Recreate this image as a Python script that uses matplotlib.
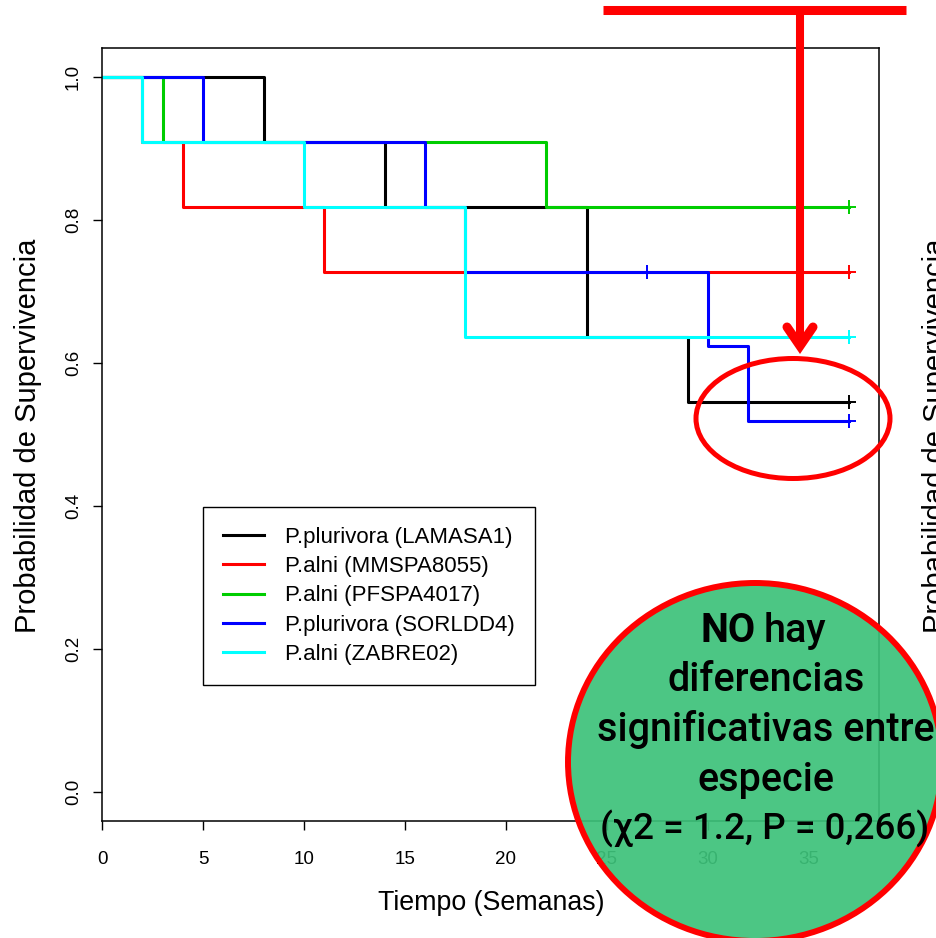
import matplotlib
matplotlib.use("Agg")
import matplotlib.pyplot as plt
from matplotlib.patches import Ellipse
from matplotlib.lines import Line2D

plt.rcParams['font.family'] = ['Liberation Sans', 'DejaVu Sans']

# Kaplan-Meier curves: step times (weeks) and survival after each step
labels = ["P.plurivora (LAMASA1)", "P.alni (MMSPA8055)", "P.alni (PFSPA4017)",
          "P.plurivora (SORLDD4)", "P.alni (ZABRE02)"]
colors = ["black", "#FF0000", "#00CD00", "#0000FF", "#00FFFF"]

t_lamasa = [0, 8, 14, 24, 29, 37]
s_lamasa = [1.0, 0.909, 0.818, 0.636, 0.545, 0.545]
t_mmspa = [0, 2, 4, 11, 37]
s_mmspa = [1.0, 0.909, 0.818, 0.727, 0.727]
t_pfspa = [0, 3, 22, 37]
s_pfspa = [1.0, 0.909, 0.818, 0.818]
t_sorldd = [0, 5, 16, 18, 30, 32, 37]
s_sorldd = [1.0, 0.909, 0.818, 0.727, 0.623, 0.519, 0.519]
t_zabre = [0, 2, 10, 18, 37]
s_zabre = [1.0, 0.909, 0.818, 0.636, 0.636]

# censored observations (+ marks)
cens_t = [[37], [37], [37], [27, 37], [37]]
cens_s = [[0.545], [0.727], [0.818], [0.727, 0.519], [0.636]]

times = [t_lamasa, t_mmspa, t_pfspa, t_sorldd, t_zabre]
survs = [s_lamasa, s_mmspa, s_pfspa, s_sorldd, s_zabre]

W, H = 936, 938
fig = plt.figure(figsize=(W / 100, H / 100), dpi=100)
ax = fig.add_axes([102 / W, 1 - 821 / H, (879 - 102) / W, (821 - 48) / H])

for t, s, c, lab, ct, cs in zip(times, survs, colors, labels, cens_t, cens_s):
    ax.step(t, s, where='post', color=c, lw=2.2, label=lab)
    ax.plot(ct, cs, ls='none', marker='+', ms=10, mew=1.4, color=c)

ax.set_xlim(0, 38.48)
ax.set_ylim(-0.04, 1.04)
ax.set_xticks([0, 5, 10, 15, 20, 25, 30, 35])
ax.set_yticks([0.0, 0.2, 0.4, 0.6, 0.8, 1.0])
ax.set_yticklabels(["0.0", "0.2", "0.4", "0.6", "0.8", "1.0"])
ax.tick_params(axis='both', direction='out', length=6.5, width=1, labelsize=13.5)
ax.tick_params(axis='x', pad=15)
ax.tick_params(axis='y', pad=8, labelrotation=90)
for tl in ax.get_yticklabels():
    tl.set_va('center')
for sp in ax.spines.values():
    sp.set_linewidth(1.1)

leg = ax.legend(loc='upper left', bbox_to_anchor=(203 / W, 1 - 507 / H),
                bbox_transform=fig.transFigure, borderaxespad=0, fontsize=16,
                handlelength=1.85, handletextpad=0.95, labelspacing=0.37,
                borderpad=0.9, fancybox=False, edgecolor='black', framealpha=1)
leg.get_frame().set_linewidth(1.0)

fig.text(28 / W, 1 - 436 / H, "Probabilidad de Supervivencia", rotation=90,
         ha='center', va='center', fontsize=21)
fig.text(491 / W, 1 - 903 / H, "Tiempo (Semanas)", ha='center', va='center', fontsize=19.3)
# y label of the neighbouring panel, cut by the right edge
fig.text(922 / W, 1 - 436 / H, "Probabilidad de Supervivencia", rotation=90,
         ha='left', va='center', fontsize=21)

# overlay in pixel coordinates
ov = fig.add_axes([0, 0, 1, 1])
ov.set_xlim(0, W)
ov.set_ylim(H, 0)
ov.axis('off')

red = "#FF0000"
ov.add_line(Line2D([603, 906], [10.5, 10.5], color=red, lw=6.5, solid_capstyle='butt'))
ov.add_line(Line2D([800, 800], [10, 346], color=red, lw=5.8, solid_capstyle='butt'))
ov.add_line(Line2D([787, 800, 813], [327, 346, 327], color=red, lw=6.5,
                   solid_capstyle='round', solid_joinstyle='miter'))
ov.add_patch(Ellipse((793, 418.5), 194, 120, fill=False, edgecolor=red, lw=3.6))

ov.add_patch(Ellipse((755, 762), 374, 358, facecolor=(0.24, 0.76, 0.48, 0.92),
                     edgecolor=red, lw=4.3))

tfam = ['Roboto', 'DejaVu Sans']
fs = 28.5
ov.text(756, 642, "NO", ha='right', va='baseline', fontsize=fs, fontweight='bold', family=tfam)
ov.text(764, 642, "hay", ha='left', va='baseline', fontsize=fs, fontweight='medium', family=tfam)
for txt, yb in [("diferencias", 691), ("significativas entre", 741), ("especie", 791)]:
    ov.text(766, yb, txt, ha='center', va='baseline', fontsize=fs,
            fontweight='medium', family=tfam)
ov.text(765, 840, "(χ2 = 1.2, P = 0,266)", ha='center', va='baseline', fontsize=26.5,
        fontweight='medium', family=tfam)

fig.savefig("out.png", dpi=100)
